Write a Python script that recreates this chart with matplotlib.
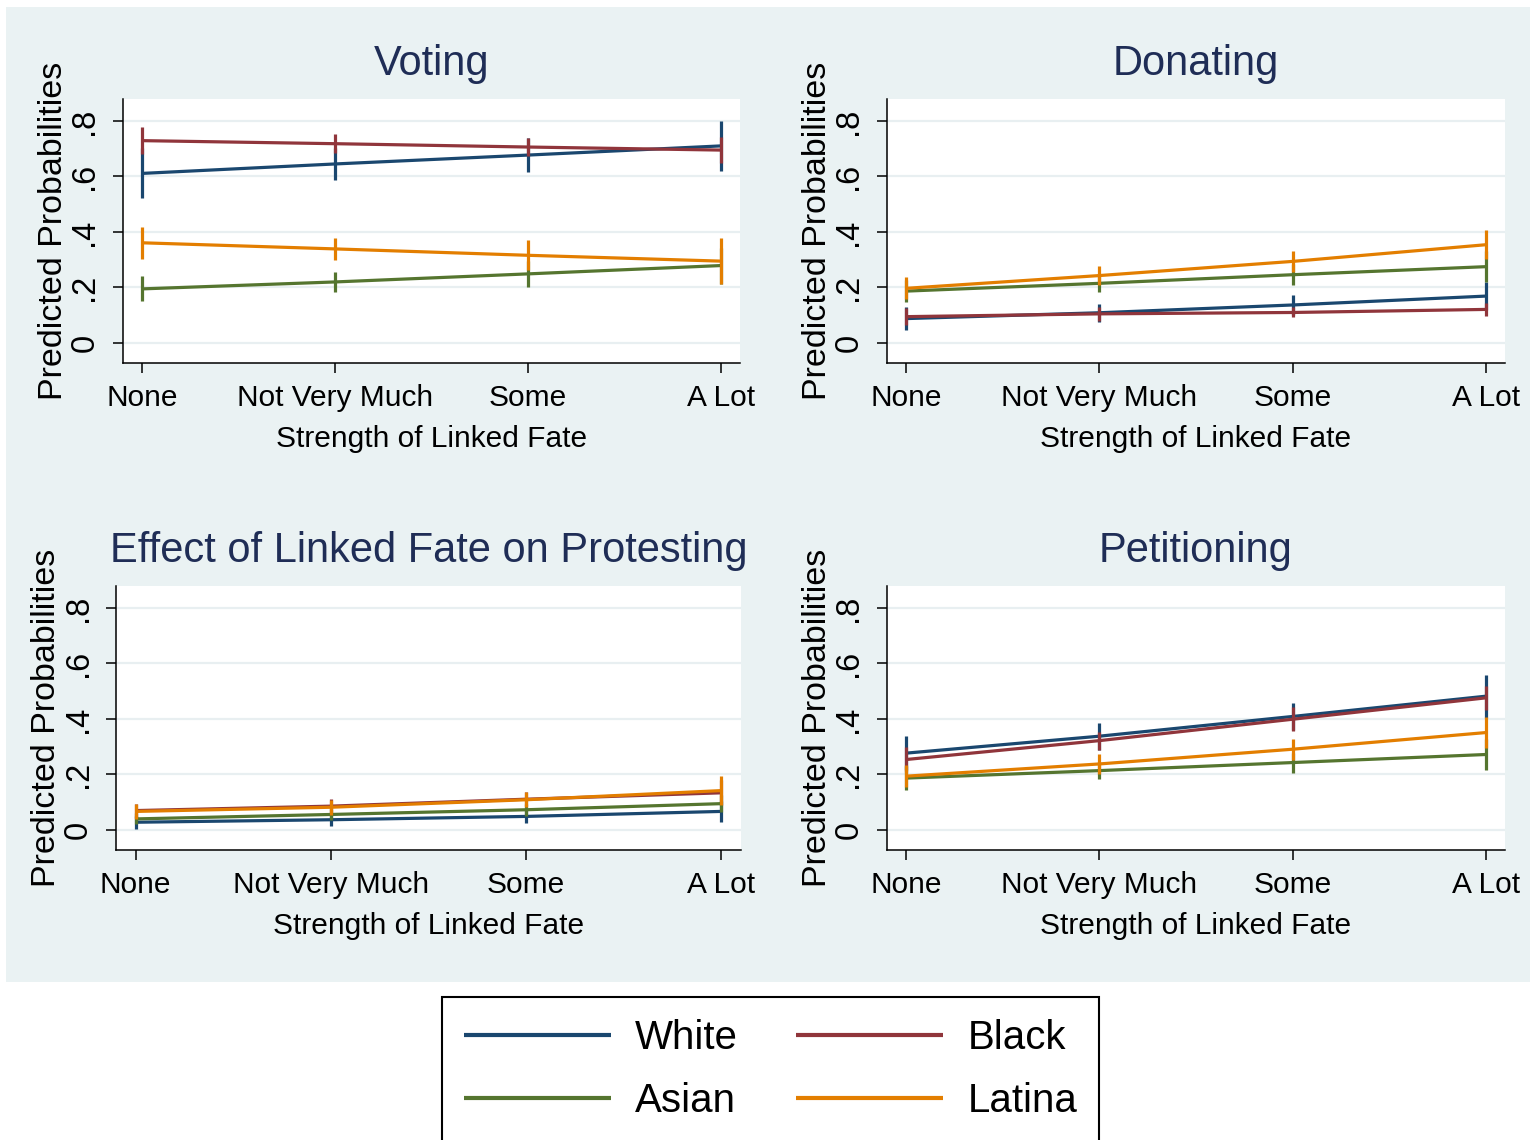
import matplotlib.pyplot as plt
import numpy as np
from matplotlib.patches import Rectangle

plt.rcParams['font.family'] = ['Liberation Sans', 'DejaVu Sans']

# categories on the x axis
niveles = ['None', 'Not Very Much', 'Some', 'A Lot']
grupos = ['White', 'Black', 'Asian', 'Latina']
colores = {'White': '#1a476f', 'Black': '#90353b', 'Asian': '#55752f', 'Latina': '#e37e00'}

# predicted probabilities and half-width of the 95% CI
voting_est = {'White': [0.611, 0.645, 0.677, 0.710],
              'Black': [0.729, 0.718, 0.706, 0.695],
              'Asian': [0.195, 0.220, 0.249, 0.279],
              'Latina': [0.361, 0.339, 0.316, 0.295]}
voting_ci = {'White': [0.090, 0.058, 0.060, 0.090],
             'Black': [0.048, 0.034, 0.031, 0.046],
             'Asian': [0.045, 0.036, 0.046, 0.065],
             'Latina': [0.058, 0.041, 0.054, 0.082]}

donating_est = {'White': [0.088, 0.109, 0.137, 0.169],
                'Black': [0.095, 0.105, 0.110, 0.121],
                'Asian': [0.187, 0.215, 0.246, 0.275],
                'Latina': [0.197, 0.243, 0.294, 0.354]}
donating_ci = {'White': [0.040, 0.033, 0.036, 0.050],
               'Black': [0.030, 0.025, 0.018, 0.024],
               'Asian': [0.040, 0.030, 0.037, 0.055],
               'Latina': [0.040, 0.034, 0.039, 0.053]}

protesting_est = {'White': [0.028, 0.037, 0.049, 0.067],
                  'Black': [0.070, 0.086, 0.111, 0.134],
                  'Asian': [0.040, 0.056, 0.073, 0.095],
                  'Latina': [0.067, 0.082, 0.109, 0.142]}
protesting_ci = {'White': [0.024, 0.023, 0.022, 0.039],
                 'Black': [0.025, 0.025, 0.025, 0.045],
                 'Asian': [0.020, 0.020, 0.022, 0.030],
                 'Latina': [0.027, 0.027, 0.027, 0.052]}

petitioning_est = {'White': [0.277, 0.338, 0.409, 0.482],
                   'Black': [0.254, 0.322, 0.399, 0.476],
                   'Asian': [0.187, 0.214, 0.243, 0.272],
                   'Latina': [0.194, 0.238, 0.291, 0.351]}
petitioning_ci = {'White': [0.060, 0.048, 0.048, 0.078],
                  'Black': [0.045, 0.032, 0.043, 0.043],
                  'Asian': [0.042, 0.032, 0.036, 0.055],
                  'Latina': [0.040, 0.036, 0.037, 0.056]}

yticks = [0, 0.2, 0.4, 0.6, 0.8]
yticklabels = ['0', '.2', '.4', '.6', '.8']

W, H = 1531, 1140
fig = plt.figure(figsize=(W / 100, H / 100), dpi=100)
fig.patch.set_facecolor('white')

# shaded graph region behind the four panels
fig.patches.append(Rectangle((6 / W, 1 - 982 / H), 1524 / W, 975 / H,
                             transform=fig.transFigure, facecolor='#eaf2f3',
                             edgecolor='none', zorder=-5))

# panel boxes in pixels: left, top, right, bottom
paneles = [
    ('Voting', voting_est, voting_ci, (123, 99, 740, 363)),
    ('Donating', donating_est, donating_ci, (887, 99, 1505, 363)),
    ('Effect of Linked Fate on Protesting', protesting_est, protesting_ci, (116, 586, 741, 850)),
    ('Petitioning', petitioning_est, petitioning_ci, (887, 586, 1505, 850)),
]

x = np.arange(len(niveles))
handles = {}
for titulo, est, ci, (l, t, r, b) in paneles:
    ax = fig.add_axes([l / W, 1 - b / H, (r - l) / W, (b - t) / H])
    ax.set_zorder(1)
    ax.set_facecolor('white')
    for g in grupos:
        e = np.array(est[g])
        c = np.array(ci[g])
        line, = ax.plot(x, e, color=colores[g], lw=2.3, solid_capstyle='butt')
        ax.vlines(x, e - c, e + c, color=colores[g], lw=2.3)
        handles[g] = line
    ax.set_xlim(-0.1, 3.1)
    ax.set_ylim(-0.072, 0.879)
    ax.set_xticks(x)
    ax.set_xticklabels(niveles, fontsize=21.5)
    ax.set_yticks(yticks)
    ax.set_yticklabels(yticklabels, fontsize=23.5, rotation=90, va='center')
    for yt in yticks:
        ax.axhline(yt, color='#e8eff1', lw=1.6, zorder=0)
    for s in ['top', 'right']:
        ax.spines[s].set_visible(False)
    for s in ['left', 'bottom']:
        ax.spines[s].set_linewidth(1.1)
    ax.tick_params(axis='x', length=7.2, width=1.1, pad=8)
    ax.tick_params(axis='y', length=7.2, width=1.1, pad=9)
    ax.text(0.5, 1 + 24 / (b - t), titulo, transform=ax.transAxes, ha='center',
            va='baseline', fontsize=30, color='#1f2d56')
    ax.set_xlabel('Strength of Linked Fate', fontsize=21.5)
    ax.xaxis.set_label_coords(0.5, -0.236)
    ax.set_ylabel('Predicted Probabilities', fontsize=24.5)
    ax.yaxis.set_label_coords(-54 / (r - l), 0.5)

orden = ['White', 'Asian', 'Black', 'Latina']
leg = fig.legend([handles[g] for g in orden], orden, ncol=2, loc='upper center',
                 bbox_to_anchor=(770.5 / W, 1 - 997 / H), fontsize=29,
                 handlelength=3.65, handletextpad=0.6, columnspacing=1.45,
                 borderpad=0.55, labelspacing=0.62, borderaxespad=0,
                 frameon=True, fancybox=False, edgecolor='black', framealpha=1)
leg.get_frame().set_linewidth(1.5)
for ln in leg.get_lines():
    ln.set_linewidth(3)

fig.savefig('out.png', dpi=100)
